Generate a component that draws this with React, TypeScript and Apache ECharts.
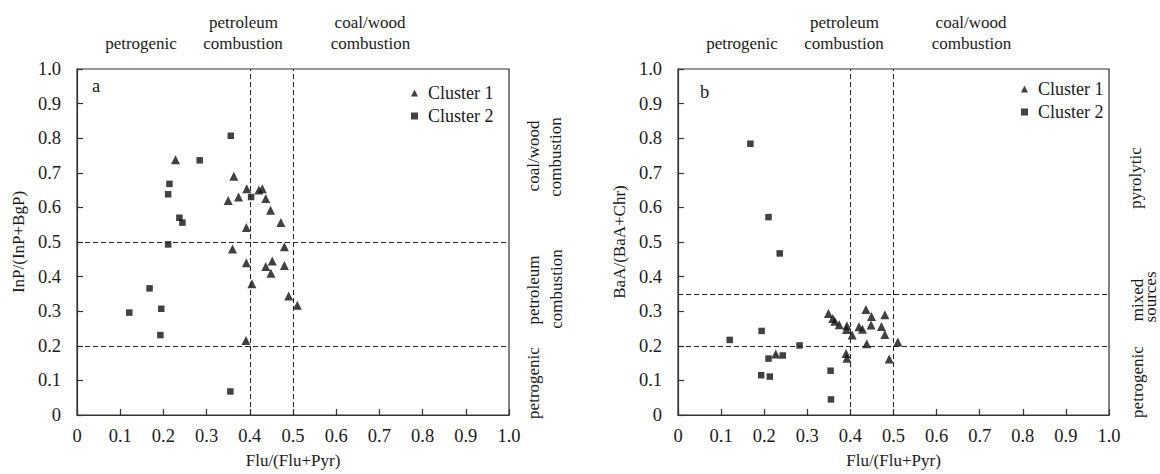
import React, { useEffect, useRef } from "react";
import * as echarts from "echarts";

// ---- Data ----
const xTicks = [0, 0.1, 0.2, 0.3, 0.4, 0.5, 0.6, 0.7, 0.8, 0.9, 1.0];

// Panel a: InP/(InP+BgP) vs Flu/(Flu+Pyr)
const aCluster1X = [0.228, 0.363, 0.393, 0.421, 0.429, 0.374, 0.35, 0.437, 0.448, 0.472, 0.392, 0.36, 0.48, 0.392, 0.437, 0.452, 0.48, 0.449, 0.405, 0.49, 0.51, 0.391];
const aCluster1Y = [0.738, 0.69, 0.654, 0.65, 0.654, 0.63, 0.62, 0.626, 0.592, 0.556, 0.542, 0.48, 0.486, 0.44, 0.429, 0.445, 0.432, 0.41, 0.379, 0.344, 0.317, 0.215];
const aCluster2X = [0.356, 0.284, 0.214, 0.211, 0.403, 0.237, 0.244, 0.211, 0.168, 0.121, 0.195, 0.193, 0.355];
const aCluster2Y = [0.807, 0.736, 0.668, 0.638, 0.63, 0.57, 0.556, 0.493, 0.366, 0.296, 0.307, 0.231, 0.068];

// Panel b: BaA/(BaA+Chr) vs Flu/(Flu+Pyr)
const bCluster1X = [0.227, 0.349, 0.359, 0.364, 0.374, 0.392, 0.391, 0.404, 0.39, 0.392, 0.436, 0.449, 0.448, 0.42, 0.428, 0.438, 0.48, 0.472, 0.48, 0.49, 0.51];
const bCluster1Y = [0.176, 0.293, 0.279, 0.271, 0.261, 0.258, 0.247, 0.231, 0.178, 0.164, 0.305, 0.285, 0.26, 0.255, 0.248, 0.206, 0.29, 0.256, 0.233, 0.162, 0.211];
const bCluster2X = [0.168, 0.21, 0.236, 0.12, 0.194, 0.21, 0.243, 0.282, 0.193, 0.213, 0.354, 0.355];
const bCluster2Y = [0.784, 0.572, 0.467, 0.217, 0.243, 0.163, 0.172, 0.201, 0.115, 0.111, 0.128, 0.045];

// Threshold lines
const aVLines = [0.4, 0.5];
const aHLines = [0.2, 0.5];
const bVLines = [0.4, 0.5];
const bHLines = [0.2, 0.35];

const seriesNames = ["Cluster 1", "Cluster 2"];
const panelLetters = ["a", "b"];
const xAxisTitle = "Flu/(Flu+Pyr)";
const yAxisTitles = ["InP/(InP+BgP)", "BaA/(BaA+Chr)"];

const FONT = "Liberation Serif";
const FS = 17;
const TICK_FS = 18.5;
const INK = "#1a1a1a";
const AXIS = "#333";

const zip = (xs: number[], ys: number[]) => xs.map((x, i) => [x, ys[i]]);
const fmt = (v: number) => (v === 0 ? "0" : v.toFixed(1));

function App() {
  const ref = useRef<HTMLDivElement>(null);

  useEffect(() => {
    if (!ref.current) return;
    const chart = echarts.init(ref.current, undefined, { renderer: "svg" });

    const grids = [
      { left: 77, top: 69, width: 432, height: 348 },
      { left: 678, top: 69, width: 431, height: 348 },
    ];

    const mkX = (gi: number) => ({
      type: "value",
      gridIndex: gi,
      min: 0,
      max: 1,
      interval: 0.1,
      name: xAxisTitle,
      nameLocation: "middle",
      nameGap: 37,
      nameTextStyle: { fontFamily: FONT, fontSize: FS, color: INK },
      axisLine: { show: true, lineStyle: { color: AXIS, width: 1.2 } },
      axisTick: { show: true, inside: true, length: 6, lineStyle: { color: AXIS, width: 1.2 } },
      axisLabel: { formatter: fmt, fontFamily: FONT, fontSize: TICK_FS, color: INK, margin: 11, showMaxLabel: true, showMinLabel: true },
      splitLine: { show: false },
    });
    const mkY = (gi: number) => ({
      type: "value",
      gridIndex: gi,
      min: 0,
      max: 1,
      interval: 0.1,
      name: yAxisTitles[gi],
      nameLocation: "middle",
      nameGap: 50,
      nameTextStyle: { fontFamily: FONT, fontSize: FS, color: INK },
      axisLine: { show: true, lineStyle: { color: AXIS, width: 1.2 } },
      axisTick: { show: true, inside: true, length: 6, lineStyle: { color: AXIS, width: 1.2 } },
      axisLabel: { formatter: fmt, fontFamily: FONT, fontSize: TICK_FS, color: INK, margin: 16, showMaxLabel: true, showMinLabel: true },
      splitLine: { show: false },
    });

    const dashed = (gi: number, vs: number[], hs: number[]) => ({
      type: "scatter",
      name: "thresholds" + gi,
      xAxisIndex: gi,
      yAxisIndex: gi,
      data: [],
      z: 1,
      silent: true,
      markLine: {
        silent: true,
        symbol: ["none", "none"],
        label: { show: false },
        lineStyle: { color: "#222", type: [5, 3], width: 1 },
        data: [...vs.map((v) => ({ xAxis: v })), ...hs.map((v) => ({ yAxis: v }))],
      },
    });

    const scatter = (gi: number, name: string, data: number[][], symbol: string, size: number) => ({
      type: "scatter",
      name,
      xAxisIndex: gi,
      yAxisIndex: gi,
      data,
      symbol,
      symbolSize: size,
      itemStyle: { color: "#111" },
      z: 3,
    });

    const legendBase = {
      orient: "vertical",
      itemWidth: 7,
      itemHeight: 7,
      itemGap: 5,
      textStyle: { fontFamily: FONT, fontSize: 18, color: INK, padding: [0, 0, 0, 5] },
      data: [
        { name: seriesNames[0], icon: "triangle" },
        { name: seriesNames[1], icon: "rect" },
      ],
    };

    const txt = (text: string, x: number, y: number, rot = 0, align = "center", size = FS) => ({
      type: "text",
      x,
      y,
      rotation: rot,
      style: {
        text,
        fontFamily: FONT,
        fontSize: size,
        fill: INK,
        textAlign: align,
        textVerticalAlign: "middle",
      },
    });
    const R = Math.PI / 2;
    const off = 601;

    const graphics: any[] = [
      // panel a top labels
      txt("petrogenic", 141, 43),
      txt("petroleum", 243.5, 22),
      txt("combustion", 243, 43),
      txt("coal/wood", 370, 22),
      txt("combustion", 370.5, 43),
      // panel b top labels
      txt("petrogenic", 141 + off, 43),
      txt("petroleum", 243.5 + off, 22),
      txt("combustion", 243 + off, 43),
      txt("coal/wood", 370 + off, 22),
      txt("combustion", 370.5 + off, 43),
      // panel letters
      txt(panelLetters[0], 92, 86, 0, "left", 18.5),
      txt(panelLetters[1], 700, 92, 0, "left", 18.5),
      // panel a right labels
      txt("coal/wood", 533, 156, R),
      txt("combustion", 555, 157, R),
      txt("petroleum", 533, 290, R),
      txt("combustion", 556, 289, R),
      txt("petrogenic", 533, 383, R),
      // panel b right labels
      txt("pyrolytic", 1135, 178, R),
      txt("mixed", 1137, 300, R),
      txt("sources", 1150, 297, R),
      txt("petrogenic", 1137, 382, R),
    ];

    chart.setOption({
      animation: false,
      textStyle: { fontFamily: FONT },
      grid: grids.map((g) => ({ ...g, show: true, borderColor: AXIS, borderWidth: 1.2, backgroundColor: "transparent" })),
      xAxis: [mkX(0), mkX(1)],
      yAxis: [mkY(0), mkY(1)],
      legend: [
        { ...legendBase, left: 406, top: 79 },
        { ...legendBase, left: 1016, top: 75 },
      ],
      series: [
        dashed(0, aVLines, aHLines),
        dashed(1, bVLines, bHLines),
        scatter(0, seriesNames[0], zip(aCluster1X, aCluster1Y), "triangle", 9),
        scatter(0, seriesNames[1], zip(aCluster2X, aCluster2Y), "rect", 6.5),
        scatter(1, seriesNames[0], zip(bCluster1X, bCluster1Y), "triangle", 9),
        scatter(1, seriesNames[1], zip(bCluster2X, bCluster2Y), "rect", 6.5),
      ],
      graphic: graphics,
    });

    return () => chart.dispose();
  }, []);

  return (
    <div
      ref={ref}
      style={{ position: "absolute", left: 0, top: 0, width: 1160, height: 474, background: "#fff" }}
    />
  );
}

export default App;
